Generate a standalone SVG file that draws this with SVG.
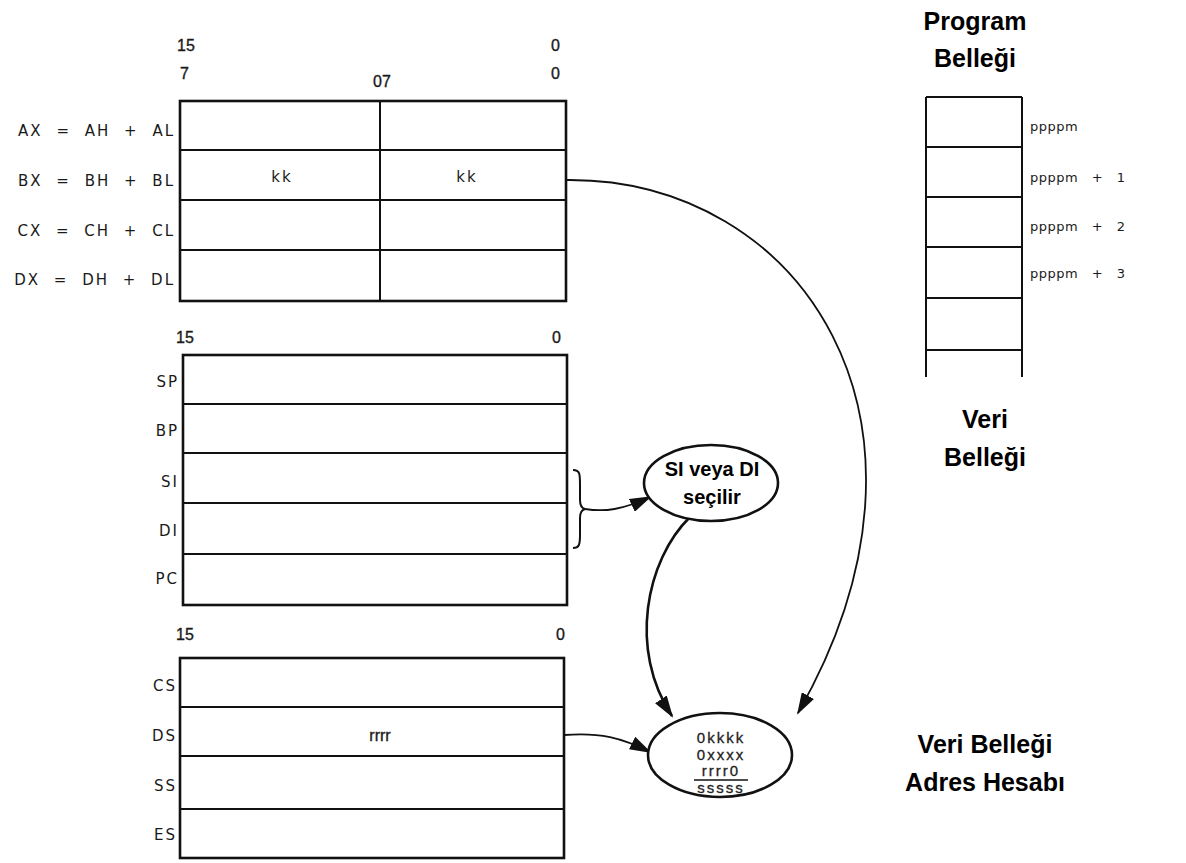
<svg xmlns="http://www.w3.org/2000/svg" width="1186" height="863" viewBox="0 0 1186 863">
<style>
.box{fill:#fff;stroke:#111;stroke-width:2.6}
.ln{stroke:#111;stroke-width:2;fill:none}
.lbl{font-family:"Liberation Sans",Arial,sans-serif;font-size:16px;fill:#1a1a1a;stroke:#1a1a1a;stroke-width:0.35}
.reg{font-family:"DejaVu Sans",sans-serif;font-size:15px;fill:#1a1a1a;letter-spacing:2px;word-spacing:7px}
.pm{font-family:"DejaVu Sans",sans-serif;font-size:13px;fill:#1a1a1a;letter-spacing:0.5px;word-spacing:9px}
.lr{text-anchor:end}
.mid{text-anchor:middle}
.big{font-family:"Liberation Sans",Arial,sans-serif;font-size:25px;font-weight:bold;fill:#000;text-anchor:middle}
.ell{fill:#fff;stroke:#111;stroke-width:2.6}
.con{fill:none;stroke:#111;stroke-width:1.8}
.cont{fill:none;stroke:#111;stroke-width:2.6}
.mono{font-family:"Liberation Sans",Arial,sans-serif;font-size:15px;fill:#222;stroke:#222;stroke-width:0.3;text-anchor:middle;letter-spacing:2px}
.sel{font-family:"Liberation Sans",Arial,sans-serif;font-size:20px;font-weight:bold;text-anchor:middle;fill:#000}
</style>
<defs>
<marker id="ahb" markerWidth="22" markerHeight="14" refX="20" refY="7" orient="auto" markerUnits="userSpaceOnUse" viewBox="0 0 22 14">
<path d="M0,0 L22,7 L0,14 z" fill="#111"/>
</marker>
</defs>

<g id="general-registers">
<text class="lbl" x="177" y="51">15</text>
<text class="lbl" x="551" y="51">0</text>
<text class="lbl" x="180" y="79">7</text>
<text class="lbl mid" x="382" y="87">07</text>
<text class="lbl" x="551" y="79">0</text>
<rect class="box" x="180" y="101" width="386" height="200"/>
<line class="ln" x1="180" y1="150" x2="566" y2="150"/>
<line class="ln" x1="180" y1="200" x2="566" y2="200"/>
<line class="ln" x1="180" y1="250" x2="566" y2="250"/>
<line class="ln" x1="380" y1="101" x2="380" y2="301"/>
<text class="reg lr" x="175" y="136">AX = AH + AL</text>
<text class="reg lr" x="175" y="186">BX = BH + BL</text>
<text class="reg lr" x="175" y="236">CX = CH + CL</text>
<text class="reg lr" x="175" y="285">DX = DH + DL</text>
<text class="reg mid" x="282" y="182">kk</text>
<text class="reg mid" x="467" y="182">kk</text>
</g>

<g id="pointer-registers">
<text class="lbl" x="176" y="343">15</text>
<text class="lbl" x="552" y="343">0</text>
<rect class="box" x="183" y="355" width="384" height="250"/>
<line class="ln" x1="183" y1="404" x2="567" y2="404"/>
<line class="ln" x1="183" y1="453" x2="567" y2="453"/>
<line class="ln" x1="183" y1="503" x2="567" y2="503"/>
<line class="ln" x1="183" y1="554" x2="567" y2="554"/>
<text class="reg lr" x="179" y="387">SP</text>
<text class="reg lr" x="179" y="436">BP</text>
<text class="reg lr" x="179" y="487">SI</text>
<text class="reg lr" x="179" y="536">DI</text>
<text class="reg lr" x="179" y="584">PC</text>
<path class="ln" stroke-width="1.5" d="M573,470 C580,470 580,474 580,485 L580,500 C580,505 581,508 585,509 C581,510 580,513 580,518 L580,535 C580,545 579,548 573,548"/>
</g>

<g id="segment-registers">
<text class="lbl" x="176" y="640">15</text>
<text class="lbl" x="556" y="640">0</text>
<rect class="box" x="180" y="658" width="384" height="200"/>
<line class="ln" x1="180" y1="707" x2="564" y2="707"/>
<line class="ln" x1="180" y1="756" x2="564" y2="756"/>
<line class="ln" x1="180" y1="809" x2="564" y2="809"/>
<text class="reg lr" x="177" y="691">CS</text>
<text class="reg lr" x="177" y="741">DS</text>
<text class="reg lr" x="177" y="791">SS</text>
<text class="reg lr" x="177" y="840">ES</text>
<text class="lbl mid" x="380" y="741">rrrr</text>
</g>

<g id="program-memory">
<text class="big" x="975" y="30">Program</text>
<text class="big" x="975" y="67">Belleği</text>
<line class="ln" stroke-width="2.6" x1="926" y1="97" x2="926" y2="377"/>
<line class="ln" stroke-width="2.6" x1="1022" y1="97" x2="1022" y2="377"/>
<line class="ln" stroke-width="2.6" x1="926" y1="97" x2="1022" y2="97"/>
<line class="ln" x1="926" y1="147" x2="1022" y2="147"/>
<line class="ln" x1="926" y1="197" x2="1022" y2="197"/>
<line class="ln" x1="926" y1="247" x2="1022" y2="247"/>
<line class="ln" x1="926" y1="298" x2="1022" y2="298"/>
<line class="ln" x1="926" y1="350" x2="1022" y2="350"/>
<text class="pm" x="1030" y="131">ppppm</text>
<text class="pm" x="1030" y="182">ppppm + 1</text>
<text class="pm" x="1030" y="231">ppppm + 2</text>
<text class="pm" x="1030" y="278">ppppm + 3</text>
</g>

<g id="data-memory-label">
<text class="big" x="985" y="428">Veri</text>
<text class="big" x="985" y="466">Belleği</text>
</g>

<g id="address-calc-label">
<text class="big" x="985" y="753">Veri Belleği</text>
<text class="big" x="985" y="791">Adres Hesabı</text>
</g>

<g id="connectors">
<path class="con" d="M567,180 C800,178 965,420 798,713" marker-end="url(#ahb)"/>
<path class="con" d="M585,509 C605,512 622,510 650,497" marker-end="url(#ahb)"/>
<path class="cont" d="M690,517 C646,560 628,650 672,716" marker-end="url(#ahb)"/>
<path class="con" d="M564,735 C600,732 622,738 650,752" marker-end="url(#ahb)"/>
</g>

<g id="si-di-select">
<ellipse class="ell" cx="711" cy="483" rx="67" ry="38"/>
<text class="sel" x="712" y="476">SI veya DI</text>
<text class="sel" x="712" y="504">seçilir</text>
</g>

<g id="address-calc">
<ellipse class="ell" cx="720" cy="755" rx="72" ry="42"/>
<text class="mono" x="721" y="743">0kkkk</text>
<text class="mono" x="721" y="760">0xxxx</text>
<text class="mono" x="721" y="776">rrrr0</text>
<line x1="694" y1="780" x2="748" y2="780" stroke="#111" stroke-width="1.5"/>
<text class="mono" x="721" y="793">sssss</text>
</g>
</svg>
